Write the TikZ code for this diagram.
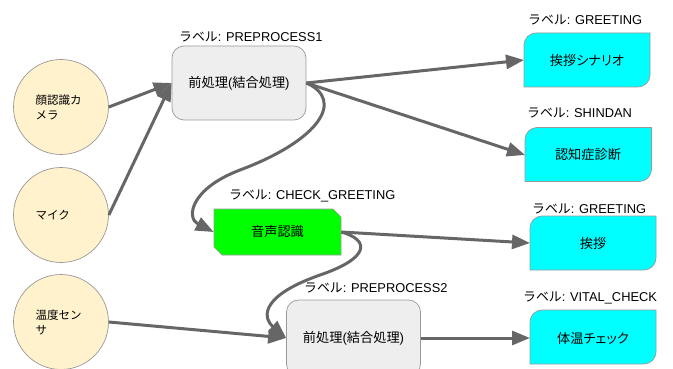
\documentclass[tikz,border=0pt]{standalone}
\usepackage{fontspec}
\setmainfont{Liberation Sans}
\newfontfamily\cjk{Noto Sans CJK JP}
\newfontfamily\cjkp[RawFeature=+palt]{Noto Sans CJK JP}
\usetikzlibrary{arrows.meta,shapes.misc}
\definecolor{edgegray}{HTML}{666666}
\definecolor{bordergray}{HTML}{999999}
\definecolor{cream}{HTML}{FFF2CC}
\definecolor{softgray}{HTML}{EEEEEE}
\definecolor{aquabox}{HTML}{00FFFF}
\definecolor{limebox}{HTML}{00FF00}
\newcommand{\lbl}[1]{{\cjk ラベル}: #1}
% left, top, right, bottom: rounded top-left and bottom-right corners
\newcommand{\cyanshape}[4]{%
  \path[cyanfill] (#1+12,#2) -- (#3,#2) -- (#3,#4-12)
    .. controls (#3,#4-5.4) and (#3-5.4,#4) .. (#3-12,#4) -- (#1,#4) -- (#1,#2+12)
    .. controls (#1,#2+5.4) and (#1+5.4,#2) .. (#1+12,#2) -- cycle;}
\tikzset{
  x=1pt,y=-1pt,
  sensor/.style={circle,draw=bordergray,line width=.7pt,fill=cream,minimum size=95pt,inner sep=0pt,text width=51pt,align=left,font=\fontsize{11.5}{15}\cjk},
  procbox/.style={rectangle,rounded corners=12pt,draw=bordergray,line width=.7pt,fill=softgray,minimum width=134pt,inner sep=0pt,font=\fontsize{13.2}{16}\cjk},
  voicebox/.style={chamfered rectangle,chamfered rectangle corners={north east,south west},chamfered rectangle xsep=4pt,chamfered rectangle ysep=4pt,draw=bordergray,line width=.7pt,fill=limebox,minimum width=127pt,minimum height=46pt,inner sep=0pt,font=\fontsize{13.2}{16}\cjk},
  cyanfill/.style={draw=bordergray,line width=.7pt,fill=aquabox},
  cyantext/.style={inner sep=0pt,font=\fontsize{13.2}{16}\cjkp},
  tag/.style={anchor=west,inner sep=0pt,font=\fontsize{12.85}{15}\selectfont},
  link/.style={draw=edgegray,line width=3pt,-{Triangle[length=18pt,width=14pt]}},
}
\begin{document}
\begin{tikzpicture}
\useasboundingbox (0,0) rectangle (673,369);
\clip (0,0) rectangle (673,369);
\node[sensor] (cam) at (61,107) {顔認識カ\\メラ};
\node[sensor] (mic) at (61,215) {マイク};
\node[sensor] (temp) at (61,322) {温度セン\\サ};
\node[procbox,minimum height=74pt] (pre1) at (239,83) {前処理{\rmfamily(}結合処理{\rmfamily)}};
\node[voicebox] (voice) at (277.5,232) {音声認識};
\node[procbox,minimum height=76pt] (pre2) at (353.5,338) {前処理{\rmfamily(}結合処理{\rmfamily)}};
\cyanshape{524}{33}{650}{87}
\node[cyantext] (greet1) at (587,60) {挨拶シナリオ};
\cyanshape{525}{127.5}{651.5}{181.5}
\node[cyantext] (diag) at (588,155) {認知症診断};
\cyanshape{530}{216}{656}{270}
\node[cyantext] (greet2) at (593,243) {挨拶};
\cyanshape{530}{310}{656}{364}
\node[cyantext] (vital) at (593,338) {体温チェック};
\coordinate (g1in) at (524,60);
\coordinate (d1in) at (525,155);
\coordinate (g2in) at (530,243);
\coordinate (v1in) at (530,338);
\node[tag] (t1) at (179,37) {\lbl{PREPROCESS1}};
\node[tag] (t2) at (528,20) {\lbl{GREETING}};
\node[tag] (t3) at (527,113) {\lbl{SHINDAN}};
\node[tag] (t4) at (229,196) {\lbl{CHECK\_GREETING}};
\node[tag] (t5) at (532,209) {\lbl{GREETING}};
\node[tag] (t6) at (304,288) {\lbl{PREPROCESS2}};
\node[tag] (t7) at (523,298) {\lbl{VITAL\_CHECK}};
\draw[link] (cam.east) -- (pre1.west);
\draw[link] (mic.east) -- (pre1.west);
\draw[link] (temp.east) -- (pre2.west);
\draw[link] (pre1.east) -- (g1in);
\draw[link] (pre1.east) -- (d1in);
\draw[link] (voice.east) -- (g2in);
\draw[link] (pre2.east) -- (v1in);
\draw[link] (pre1.east) .. controls (345,100) and (320,140) .. (240,170) .. controls (190,189) and (186,218) .. (voice.west);
\draw[link] (voice.east) .. controls (370,240) and (370,258) .. (320,275) .. controls (255,298) and (265,320) .. (pre2.west);
\end{tikzpicture}
\end{document}
